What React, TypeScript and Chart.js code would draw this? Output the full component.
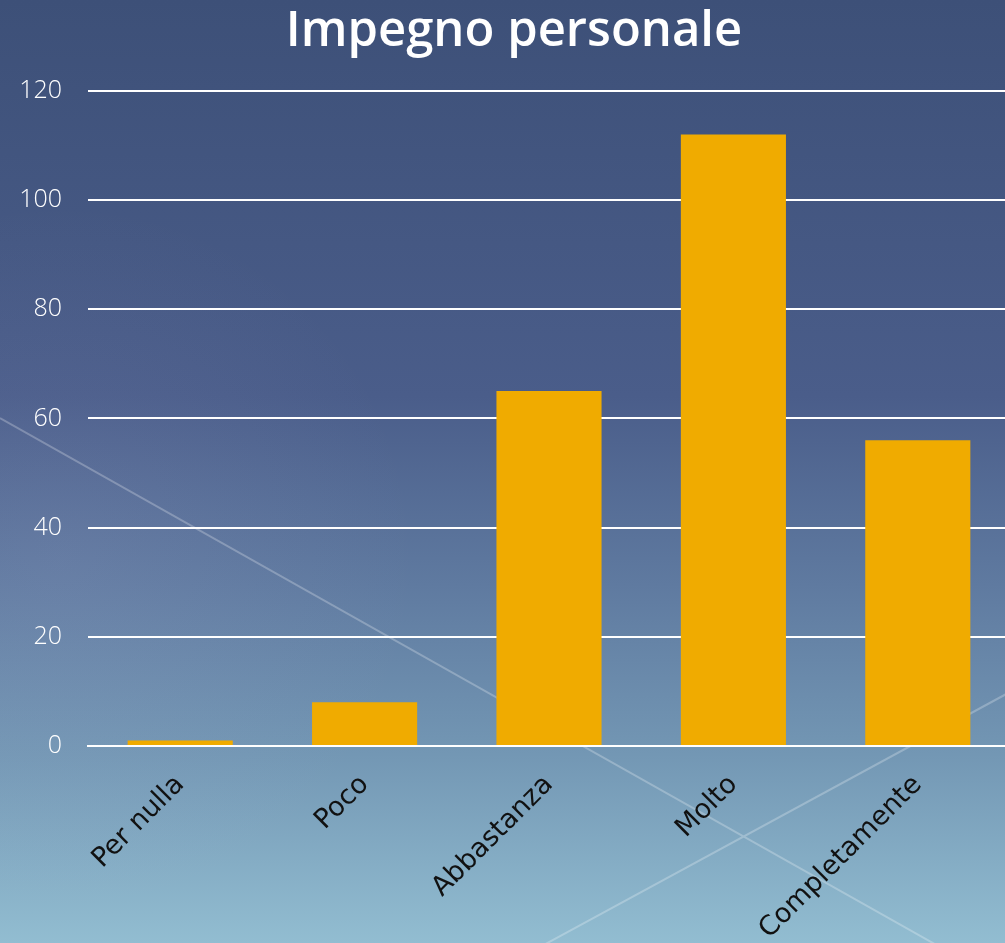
import React, { useEffect, useRef } from "react";
import { Chart, registerables } from "chart.js";

Chart.register(...registerables);

const categories = ["Per nulla", "Poco", "Abbastanza", "Molto", "Completamente"];
const values = [1, 8, 65, 112, 56];
const yTicks = [0, 20, 40, 60, 80, 100, 120];
const titleText = "Impegno personale";

const bgPlugin = {
  id: "bgPlugin",
  beforeDraw(chart: any) {
    const { ctx, width, height } = chart;
    ctx.save();
    const g = ctx.createLinearGradient(0, 0, 0, height);
    g.addColorStop(0, "#3D5078");
    g.addColorStop(0.42, "#4A5D8A");
    g.addColorStop(0.62, "#5F7AA0");
    g.addColorStop(0.8, "#7397B4");
    g.addColorStop(1, "#92BDD1");
    ctx.fillStyle = g;
    ctx.fillRect(0, 0, width, height);
    const r = ctx.createRadialGradient(60, 560, 0, 60, 560, 360);
    r.addColorStop(0, "rgba(200,190,230,0.09)");
    r.addColorStop(1, "rgba(200,190,230,0)");
    ctx.fillStyle = r;
    ctx.fillRect(0, 0, width, height);
    ctx.strokeStyle = "rgba(255,255,255,0.25)";
    ctx.lineWidth = 2;
    ctx.beginPath();
    ctx.moveTo(0, 418);
    ctx.lineTo(940, 947);
    ctx.moveTo(1010, 692);
    ctx.lineTo(540, 947);
    ctx.stroke();
    ctx.restore();
  },
};

export default function App() {
  const ref = useRef<HTMLCanvasElement>(null);
  useEffect(() => {
    document.body.style.margin = "0";
    document.body.style.overflow = "hidden";
    const chart = new Chart(ref.current as HTMLCanvasElement, {
      type: "bar",
      data: {
        labels: categories,
        datasets: [
          {
            data: values,
            backgroundColor: "#F0AB00",
            barPercentage: 0.57,
            categoryPercentage: 1,
          },
        ],
      },
      options: {
        animation: false,
        responsive: false,
        layout: { padding: { left: 18, right: 0, top: 0, bottom: 0 } },
        plugins: {
          legend: { display: false },
          tooltip: { enabled: false },
          title: {
            display: true,
            text: titleText,
            color: "#FFFFFF",
            font: { family: "Open Sans", size: 49, weight: "600" },
            padding: { top: 3, bottom: 29 },
          },
        },
        scales: {
          x: {
            grid: { display: false },
            border: { display: true, color: "#FFFFFF", width: 2 },
            ticks: {
              color: "#111111",
              font: { family: "DejaVu Sans", size: 27 },
              maxRotation: 45,
              minRotation: 45,
              padding: 15,
            },
            afterFit(scale: any) {
              scale.height = 197;
            },
          },
          y: {
            min: 0,
            max: 120,
            afterBuildTicks(scale: any) {
              scale.ticks = yTicks.map((v) => ({ value: v }));
            },
            grid: { color: "#FFFFFF", lineWidth: 2, drawTicks: false },
            border: { display: false },
            ticks: {
              color: "#FFFFFF",
              font: { family: "Open Sans", size: 25, weight: 300 },
              padding: 26,
            },
            afterFit(scale: any) {
              scale.width = 70;
            },
          },
        },
      },
      plugins: [bgPlugin],
    });
    return () => chart.destroy();
  }, []);
  return (
    <div style={{ position: "fixed", left: 0, top: 0, width: 1005, height: 943, overflow: "hidden" }}>
      <canvas ref={ref} width={1010} height={943} style={{ display: "block" }} />
    </div>
  );
}
